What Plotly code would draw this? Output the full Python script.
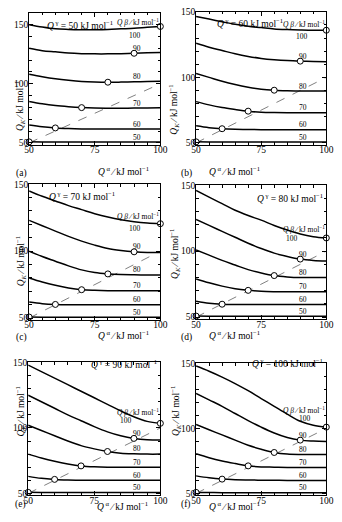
import numpy as np
import plotly.graph_objects as go

W, H = 342, 522

q_alpha = [50, 55, 60, 65, 70, 75, 80, 85, 90, 95, 100]
q_beta = [100, 90, 80, 70, 60, 50]
q_gamma = [50, 60, 70, 80, 90, 100]
panel_tags = ["(a)", "(b)", "(c)", "(d)", "(e)", "(f)"]

# Q_K curves, one list per Q_beta (100, 90, 80, 70, 60, 50), per panel
qk_a = [
    [150, 148, 146.5, 146, 145.8, 145.8, 146, 146.5, 147, 147.8, 148.5],
    [130, 128, 127, 126, 125.5, 125.3, 125.3, 125.5, 125.8, 126.2, 126.5],
    [108, 106, 104.3, 103, 102, 101.5, 101.3, 101.4, 101.6, 101.9, 102.2],
    [85, 83, 81.5, 80.5, 79.8, 79.4, 79.3, 79.3, 79.4, 79.5, 79.6],
    [65, 63.5, 62.6, 62.1, 61.8, 61.7, 61.6, 61.6, 61.6, 61.6, 61.6],
    [50.8, 50.7, 50.6, 50.6, 50.6, 50.6, 50.6, 50.6, 50.6, 50.6, 50.6],
]
qk_b = [
    [146.5, 144.5, 142.5, 140.5, 139, 138, 137, 136.5, 136.2, 136, 136],
    [126, 123, 120.5, 118, 116, 114.5, 113.5, 112.8, 112.4, 112.2, 112],
    [103, 100, 97, 94.5, 92.5, 91, 90.2, 89.8, 89.6, 89.5, 89.5],
    [81.5, 79, 77, 75.5, 74.2, 73.4, 73.1, 73, 73, 73, 73],
    [63, 61.6, 60.8, 60.4, 60.2, 60.1, 60.1, 60, 60, 60, 60],
    [50.8, 50.7, 50.6, 50.6, 50.6, 50.6, 50.6, 50.6, 50.6, 50.6, 50.6],
]
qk_c = [
    [145, 141, 137.5, 134, 131, 128, 125.5, 123.5, 122, 121, 120.5],
    [123, 119, 115, 111, 107.5, 104.5, 102, 100.5, 99.5, 99, 99],
    [100, 96, 92.5, 89, 86, 84, 83, 82.5, 82.3, 82.2, 82.2],
    [80, 77, 74.5, 72.5, 71.2, 70.7, 70.5, 70.5, 70.5, 70.5, 70.5],
    [62, 60.8, 60.2, 60, 60, 60, 60, 60, 60, 60, 60],
    [50.8, 50.7, 50.6, 50.6, 50.6, 50.6, 50.6, 50.6, 50.6, 50.6, 50.6],
]
qk_d = [
    [146, 141, 136, 131, 127, 123.5, 119.5, 116, 113, 111, 110],
    [124, 119.5, 115, 110.5, 106, 102, 98.5, 96, 94, 93, 92.5],
    [101, 97, 93, 89.5, 86, 83.5, 81.5, 80.5, 80, 80, 80],
    [79, 76, 73.5, 71.5, 70.3, 69.6, 69.3, 69.2, 69.2, 69.2, 69.2],
    [62, 60.5, 59.8, 59.6, 59.5, 59.5, 59.5, 59.5, 59.5, 59.5, 59.5],
    [50.8, 50.7, 50.6, 50.6, 50.6, 50.6, 50.6, 50.6, 50.6, 50.6, 50.6],
]
qk_e = [
    [148, 143, 138, 133, 128, 123, 118, 113, 108.5, 105, 103.5],
    [125, 120, 115, 110, 105.5, 101, 97, 94, 92, 91, 90.8],
    [102, 98, 94, 90, 86.5, 84, 82, 80.7, 80.2, 80, 80],
    [80, 77, 74.5, 72.5, 71, 70.3, 70, 70, 70, 70, 70],
    [63, 61.5, 60.7, 60.3, 60.1, 60, 60, 60, 60, 60, 60],
    [50.8, 50.7, 50.6, 50.6, 50.6, 50.6, 50.6, 50.6, 50.6, 50.6, 50.6],
]
qk_f = [
    [148, 144, 139.5, 134.5, 129, 123, 117, 111, 105.5, 102.5, 101],
    [127, 122, 117, 111.5, 106, 101, 96.5, 93, 91, 90.3, 90],
    [103, 99, 95, 91, 87, 84, 81.5, 80.3, 80, 80, 80],
    [80.5, 77.5, 75, 73, 71.2, 70.4, 70.2, 70, 70, 70, 70],
    [63.5, 62, 61, 60.5, 60.3, 60.2, 60.1, 60, 60, 60, 60],
    [50.8, 50.7, 50.6, 50.6, 50.6, 50.6, 50.6, 50.6, 50.6, 50.6, 50.6],
]
panels_qk = [qk_a, qk_b, qk_c, qk_d, qk_e, qk_f]

diag_x = [50, 100]
diag_y = [50, 100]

x_ticks = [50, 75, 100]
y_ticks = [50, 100, 150]

# ---- layout geometry (pixels) ----
# (left, right, top, bottom, yrange)
geom = [
    (25, 161, 8, 142, [48.3, 160]),
    (198, 333, 7, 142, [48.5, 150]),
    (25, 161, 182, 320, [48.5, 150]),
    (198, 333, 183, 319, [48.5, 150]),
    (24, 161, 363, 498, [48.5, 150]),
    (198, 333, 364, 498, [48.5, 150]),
]
gamma_pos = [(78, 12, "center"), (254, 10, "center"), (80, 194, "center"),
             (332, 196, "right"), (160, 373, "right"), (332, 372, "right")]
ylab_pos = [(7, 75), (175, 79), (7, 260), (175, 253), (7, 440), (176, 440)]
xlab_y = [160, 160, 335, 335, 517, 517]
tag_y = [163, 163, 338, 338, 515, 515]
lab100_x = [90.5, 90.5, 90.5, 87, 87, 92]
lab100_dy = [-7, -7, -7, -7, -7, 4]
qb_dy = [6, 6, 6, 6, 6, 12]

SERIF = "Liberation Serif"
fig = go.Figure()
annotations = []

def px(x, y):
    return x / W, 1 - y / H

for i in range(6):
    l, r, t, b, yr = geom[i]
    xa = "xaxis" if i == 0 else f"xaxis{i+1}"
    ya = "yaxis" if i == 0 else f"yaxis{i+1}"
    xr = "x" if i == 0 else f"x{i+1}"
    yrf = "y" if i == 0 else f"y{i+1}"
    axis_common = dict(
        showline=True, linecolor="black", linewidth=1, mirror="allticks",
        ticks="inside", ticklen=4, tickcolor="black", tickwidth=1,
        showgrid=False, zeroline=False,
        tickfont=dict(family=SERIF, size=9.5, color="black"),
    )
    fig.update_layout(**{
        xa: dict(axis_common, domain=[l / W, r / W], range=[50, 100],
                 tickvals=x_ticks, anchor=yrf, ticklabelstandoff=-4,
                 minor=dict(dtick=5, ticks="inside", ticklen=2.5, tickcolor="black")),
        ya: dict(axis_common, domain=[1 - b / H, 1 - t / H], range=yr,
                 tickvals=y_ticks, anchor=xr, ticklabelstandoff=-2,
                 minor=dict(dtick=10, ticks="inside", ticklen=2.5, tickcolor="black")),
    })
    fig.add_trace(go.Scatter(x=diag_x, y=diag_y, mode="lines", xaxis=xr, yaxis=yrf,
                             line=dict(color="#808080", width=1, dash="dash"),
                             showlegend=False, hoverinfo="skip"))
    qk = panels_qk[i]
    cx, cy = [], []
    for j, qb in enumerate(q_beta):
        fig.add_trace(go.Scatter(x=q_alpha, y=qk[j], mode="lines", xaxis=xr, yaxis=yrf,
                                 line=dict(color="black", width=1.5, shape="spline"),
                                 showlegend=False, hoverinfo="skip"))
        k = q_alpha.index(qb)
        cx.append(qb)
        cy.append(qk[j][k])
        lx = lab100_x[i] if qb == 100 else 91
        ly = float(np.interp(lx, q_alpha, qk[j]))
        annotations.append(dict(x=lx, y=ly, xref=xr, yref=yrf, text=str(qb),
                                showarrow=False, yshift=(lab100_dy[i] if qb == 100 else 5),
                                font=dict(family=SERIF, size=7.5, color="black")))
    fig.add_trace(go.Scatter(x=cx, y=cy, mode="markers", xaxis=xr, yaxis=yrf,
                             marker=dict(symbol="circle", size=6, color="white",
                                         line=dict(color="black", width=1)),
                             cliponaxis=False, showlegend=False, hoverinfo="skip"))
    ly = float(np.interp(91.5, q_alpha, qk[0]))
    annotations.append(dict(x=91.5, y=ly, xref=xr, yref=yrf,
                            text="<i>Q</i> <i>β</i> ∕ kJ mol<sup>−1</sup>",
                            showarrow=False, yshift=qb_dy[i],
                            font=dict(family=SERIF, size=7.5, color="black")))
    gx, gy, anc = gamma_pos[i]
    xp, yp = px(gx, gy)
    annotations.append(dict(x=xp, y=yp, xref="paper", yref="paper", xanchor=anc,
                            text=f"<i>Q</i><sup> γ</sup> = {q_gamma[i]} kJ mol<sup>−1</sup>",
                            showarrow=False,
                            font=dict(family=SERIF, size=9.5, color="black")))
    xp, yp = px((l + r) / 2 + 1, xlab_y[i])
    annotations.append(dict(x=xp, y=yp, xref="paper", yref="paper",
                            text="<i>Q</i><sup> α</sup> ∕ kJ mol<sup>−1</sup>",
                            showarrow=False,
                            font=dict(family=SERIF, size=9.5, color="black")))
    yx, yy = ylab_pos[i]
    xp, yp = px(yx, yy)
    annotations.append(dict(x=xp, y=yp, xref="paper", yref="paper", textangle=-90,
                            text="<i>Q</i><sub><i>K</i></sub> ∕ kJ mol<sup>−1</sup>",
                            showarrow=False,
                            font=dict(family=SERIF, size=9.5, color="black")))
    xp, yp = px(l - 16 if i % 2 == 0 else l - 18, tag_y[i])
    annotations.append(dict(x=xp, y=yp, xref="paper", yref="paper", xanchor="left",
                            text=panel_tags[i], showarrow=False,
                            font=dict(family=SERIF, size=9.5, color="black")))

fig.update_layout(width=W, height=H, margin=dict(l=0, r=0, t=0, b=0),
                  paper_bgcolor="white", plot_bgcolor="white",
                  annotations=annotations, showlegend=False)
fig.write_html("out.html")
